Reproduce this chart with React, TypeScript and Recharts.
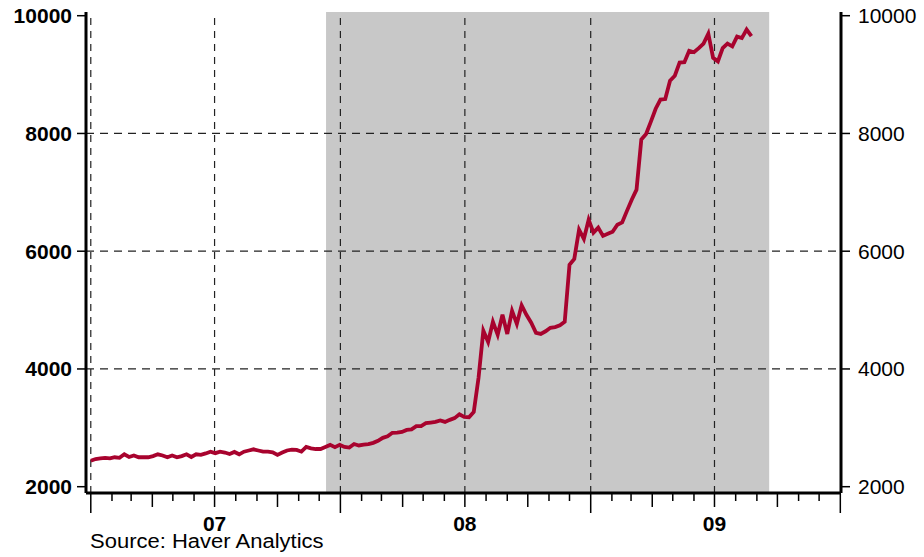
import { ComposedChart, Line, XAxis, YAxis, ReferenceArea, ReferenceLine } from "recharts";

const FONT = "'Liberation Sans', Arial, Helvetica, sans-serif";
const LINE_COLOR = "#a8032e";

// weekly series, first observation at the start of 2007
const startDate = Date.UTC(2007, 0, 1);
const weekMs = 7 * 24 * 3600 * 1000;
const weeklyValues = [
  2440, 2470, 2480, 2490, 2480, 2500, 2490, 2550, 2505, 2530,
  2500, 2500, 2500, 2520, 2550, 2530, 2500, 2530, 2500, 2520,
  2550, 2505, 2550, 2540, 2565, 2595, 2570, 2595, 2580, 2555,
  2590, 2550, 2595, 2615, 2635, 2615, 2595, 2595, 2585, 2540,
  2580, 2615, 2630, 2625, 2595, 2675, 2650, 2640, 2640, 2675,
  2710, 2670, 2710, 2675, 2665, 2725, 2700, 2715, 2725, 2745,
  2780, 2830, 2855, 2915, 2920, 2930, 2965, 2975, 3030, 3030,
  3080, 3090, 3100, 3125, 3100, 3135, 3165, 3230, 3185, 3180,
  3270, 3850, 4650, 4460, 4800, 4580, 4920, 4595, 4985, 4765,
  5080, 4920, 4785, 4615, 4595, 4640, 4700, 4710, 4740, 4800,
  5770, 5870, 6365, 6210, 6535, 6315, 6400, 6260, 6295, 6330,
  6450, 6490, 6685, 6875, 7045, 7895, 7990, 8200, 8420, 8575,
  8585, 8895, 8980, 9205, 9210, 9405, 9380, 9450, 9525, 9695,
  9285, 9225, 9450, 9525, 9480, 9645, 9620, 9765, 9655,
];

const xDomain = [Date.UTC(2006, 11, 25), Date.UTC(2010, 0, 2)];
const yDomain = [1893, 10063];
const yTicks = [2000, 4000, 6000, 8000, 10000];
const yGrid = [4000, 6000, 8000];
const xGrid = [
  Date.UTC(2007, 0, 1),
  Date.UTC(2007, 6, 1),
  Date.UTC(2008, 0, 1),
  Date.UTC(2008, 6, 1),
  Date.UTC(2009, 0, 1),
  Date.UTC(2009, 6, 1),
];
const recessionStart = Date.UTC(2007, 11, 11);
const recessionEnd = Date.UTC(2009, 8, 19);
const yearLabels: Record<number, string> = { 2007: "07", 2008: "08", 2009: "09" };

const monthTicks: number[] = [];
for (let k = 0; k <= 36; k++) monthTicks.push(Date.UTC(2007 + Math.floor(k / 12), k % 12, 1));

const chartData = weeklyValues.map((v, i) => ({ date: startDate + i * weekMs, value: v }));

function MonthTick(props: any) {
  const { x, y, payload } = props;
  const d = new Date(payload.value);
  const m = d.getUTCMonth();
  const len = m === 0 ? 19 : m % 3 === 0 ? 13 : 7;
  return (
    <g>
      <line x1={x} x2={x} y1={y + 1} y2={y + 1 + len} stroke="#000" strokeWidth={1.5} />
      {m === 6 && (
        <text
          x={x}
          y={y + 38}
          textAnchor="middle"
          fontSize={21}
          fontWeight="bold"
          fontFamily={FONT}
          fill="#000"
        >
          {yearLabels[d.getUTCFullYear()]}
        </text>
      )}
    </g>
  );
}

export default function App() {
  return (
    <div style={{ position: "absolute", left: 0, top: 0, width: 924, height: 557, background: "#fff" }}>
      <ComposedChart
        width={924}
        height={557}
        data={chartData}
        margin={{ top: 12, right: 0, left: 0, bottom: 0 }}
      >
        <XAxis
          dataKey="date"
          type="number"
          domain={xDomain}
          allowDataOverflow
          ticks={monthTicks}
          interval={0}
          tick={<MonthTick />}
          tickLine={false}
          tickSize={0}
          tickMargin={0}
          axisLine={{ stroke: "#000", strokeWidth: 3 }}
          height={64}
        />
        <XAxis
          xAxisId="top"
          orientation="top"
          type="number"
          domain={xDomain}
          allowDataOverflow
          tick={false}
          tickLine={false}
          axisLine={{ stroke: "#000", strokeWidth: 3 }}
          height={0}
        />
        <YAxis
          yAxisId="left"
          width={86}
          domain={yDomain}
          allowDataOverflow
          ticks={yTicks}
          interval={0}
          tickSize={9}
          tickMargin={5}
          tickLine={{ stroke: "#000", strokeWidth: 1.5 }}
          axisLine={{ stroke: "#000", strokeWidth: 3 }}
          tick={{ fontSize: 21, fontWeight: "bold", fill: "#000", fontFamily: FONT }}
        />
        <YAxis
          yAxisId="right"
          orientation="right"
          width={83}
          domain={yDomain}
          allowDataOverflow
          ticks={yTicks}
          interval={0}
          tickSize={9}
          tickMargin={8}
          tickLine={{ stroke: "#000", strokeWidth: 1.5 }}
          axisLine={{ stroke: "#000", strokeWidth: 3 }}
          tick={{ fontSize: 21, fill: "#000", fontFamily: FONT }}
        />
        <ReferenceArea
          yAxisId="left"
          x1={recessionStart}
          x2={recessionEnd}
          fill="#c8c8c8"
          fillOpacity={1}
          stroke="none"
        />
        {xGrid.map((x) => (
          <ReferenceLine
            key={"x" + x}
            yAxisId="left"
            x={x}
            stroke="#222"
            strokeWidth={1.2}
            strokeDasharray="7 6"
          />
        ))}
        {yGrid.map((y) => (
          <ReferenceLine
            key={"y" + y}
            yAxisId="left"
            y={y}
            stroke="#222"
            strokeWidth={1.2}
            strokeDasharray="8 6"
          />
        ))}
        <Line
          yAxisId="left"
          dataKey="value"
          type="linear"
          stroke={LINE_COLOR}
          strokeWidth={3.8}
          dot={false}
          activeDot={false}
          isAnimationActive={false}
        />
      </ComposedChart>
      <div
        style={{
          position: "absolute",
          left: 90,
          top: 531,
          fontFamily: FONT,
          fontSize: 20,
          lineHeight: "20px",
          color: "#000",
          whiteSpace: "nowrap",
          transform: "scaleX(1.1)",
          transformOrigin: "left top",
        }}
      >
        Source: Haver Analytics
      </div>
    </div>
  );
}
